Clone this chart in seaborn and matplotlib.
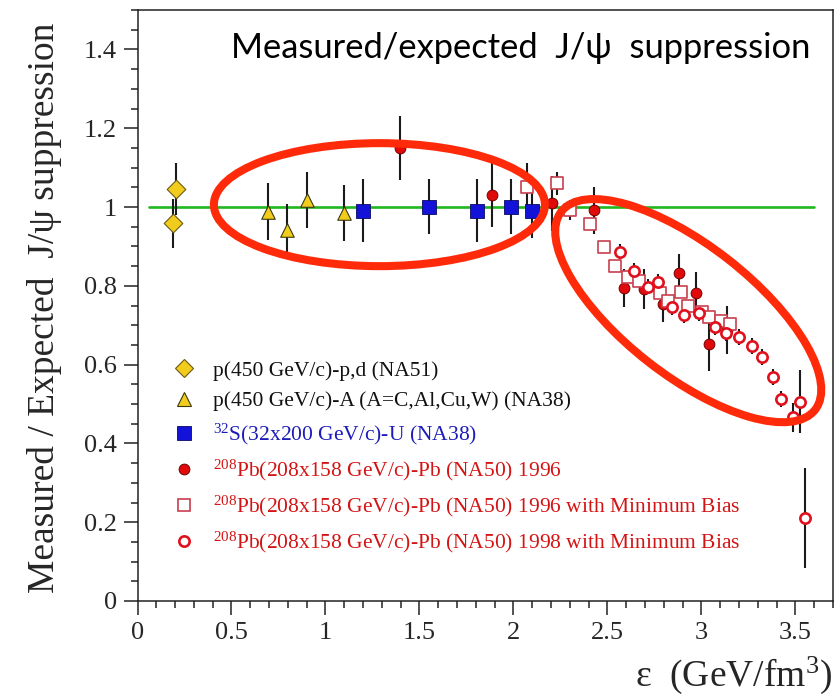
import numpy as np
import pandas as pd
import matplotlib
matplotlib.use("Agg")
import matplotlib.pyplot as plt
from matplotlib.lines import Line2D
from matplotlib.patches import Ellipse
from matplotlib.transforms import ScaledTranslation
from matplotlib.ticker import MultipleLocator
import seaborn as sns

# ---- data: energy density (GeV/fm^3), measured/expected ratio, error ----
na51_eps = [0.187, 0.205]
na51_val = [0.959, 1.046]
na51_err = [0.062, 0.066]

na38pA_eps = [0.696, 0.797, 0.900, 1.098]
na38pA_val = [0.988, 0.942, 1.018, 0.984]
na38pA_err = [0.072, 0.065, 0.072, 0.071]

su_eps = [1.198, 1.549, 1.807, 1.988, 2.097]
su_val = [0.991, 1.001, 0.991, 1.001, 0.991]
su_err = [0.080, 0.070, 0.080, 0.070, 0.070]

pb96_eps = [1.396, 1.887, 2.203, 2.428, 2.589, 2.696, 2.797, 2.880, 2.969, 3.040, 3.134]
pb96_val = [1.150, 1.031, 1.009, 0.992, 0.794, 0.792, 0.753, 0.832, 0.781, 0.652, 0.688]
pb96_err = [0.082, 0.082, 0.070, 0.060, 0.049, 0.050, 0.045, 0.050, 0.055, 0.068, 0.061]

pb96mb_eps = [2.073, 2.233, 2.301, 2.407, 2.481, 2.540, 2.611, 2.669, 2.779, 2.823,
              2.891, 2.930, 3.001, 3.041, 3.107, 3.152]
pb96mb_val = [1.052, 1.060, 0.992, 0.957, 0.899, 0.850, 0.822, 0.812, 0.781, 0.762,
              0.785, 0.749, 0.734, 0.722, 0.711, 0.702]
pb96mb_err = [0.060, 0.030, 0.025, 0.0, 0.0, 0.0, 0.0, 0.0, 0.0, 0.0,
              0.0, 0.0, 0.0, 0.0, 0.0, 0.0]

pb98mb_eps = [2.566, 2.641, 2.714, 2.770, 2.841, 2.909, 2.988, 3.072, 3.130, 3.199,
              3.270, 3.323, 3.382, 3.423, 3.485, 3.524, 3.551]
pb98mb_val = [0.887, 0.838, 0.798, 0.810, 0.747, 0.726, 0.730, 0.696, 0.681, 0.671,
              0.647, 0.619, 0.569, 0.512, 0.466, 0.506, 0.210]
pb98mb_err = [0.020, 0.020, 0.020, 0.020, 0.020, 0.020, 0.020, 0.020, 0.020, 0.020,
              0.020, 0.020, 0.020, 0.020, 0.037, 0.080, 0.127]

labels = [
    "p(450 GeV/c)-p,d (NA51)",
    "p(450 GeV/c)-A (A=C,Al,Cu,W) (NA38)",
    r"$^{32}$S(32x200 GeV/c)-U (NA38)",
    r"$^{208}$Pb(208x158 GeV/c)-Pb (NA50) 1996",
    r"$^{208}$Pb(208x158 GeV/c)-Pb (NA50) 1996 with Minimum Bias",
    r"$^{208}$Pb(208x158 GeV/c)-Pb (NA50) 1998 with Minimum Bias",
]

x_ticks = [0, 0.5, 1, 1.5, 2, 2.5, 3, 3.5]
x_ticklabels = ["0", "0.5", "1", "1.5", "2", "2.5", "3", "3.5"]
y_ticks = [0, 0.2, 0.4, 0.6, 0.8, 1.0, 1.2, 1.4]
y_ticklabels = ["0", "0.2", "0.4", "0.6", "0.8", "1", "1.2", "1.4"]

# ---- style ----
sns.set_style("ticks")
plt.rcParams["font.family"] = ["Liberation Serif", "DejaVu Serif"]
plt.rcParams["mathtext.fontset"] = "custom"
plt.rcParams["mathtext.rm"] = "Liberation Serif"
plt.rcParams["mathtext.it"] = "Liberation Serif:italic"

fig = plt.figure(figsize=(8.39, 6.96), dpi=100)
ax = fig.add_axes([0.1639, 0.1365, 0.8289, 0.8491])

series = [
    dict(eps=na51_eps, val=na51_val, err=na51_err, marker="D", face="#f2cc1c",
         edge="#6b5a10", size=90, ew=0.8),
    dict(eps=na38pA_eps, val=na38pA_val, err=na38pA_err, marker="^", face="#f2cc1c",
         edge="#3a3a10", size=95, ew=0.8),
    dict(eps=su_eps, val=su_val, err=su_err, marker="s", face="#1212d8",
         edge="#0a0a60", size=90, ew=0.6),
    dict(eps=pb96_eps, val=pb96_val, err=pb96_err, marker="o", face="#e00a0a",
         edge="#700000", size=60, ew=0.7),
    dict(eps=pb96mb_eps, val=pb96mb_val, err=pb96mb_err, marker="s", face="white",
         edge="#c8404e", size=75, ew=1.2),
    dict(eps=pb98mb_eps, val=pb98mb_val, err=pb98mb_err, marker="o", face="white",
         edge="#e0101c", size=55, ew=1.9),
]

# reference line at ratio = 1
ax.plot([0.06, 3.60], [1.0, 1.0], color="#1fb81f", lw=1.9, zorder=1)

for s in series:
    df = pd.DataFrame({"eps": s["eps"], "val": s["val"], "err": s["err"]})
    bars = df[df["err"] > 0]
    ax.errorbar(bars["eps"], bars["val"], yerr=bars["err"], fmt="none",
                ecolor="#1a1a1a", elinewidth=1.5, capsize=0, zorder=2)
    sns.scatterplot(data=df, x="eps", y="val", ax=ax, marker=s["marker"],
                    color=s["face"], edgecolor=s["edge"], linewidth=s["ew"],
                    s=s["size"], zorder=3, legend=False)

ax.set_xlim(0, 3.7)
ax.set_ylim(0, 1.5)
ax.set_xticks(x_ticks)
ax.set_xticklabels(x_ticklabels)
ax.set_yticks(y_ticks)
ax.set_yticklabels(y_ticklabels)
ax.xaxis.set_minor_locator(MultipleLocator(0.1))
ax.yaxis.set_minor_locator(MultipleLocator(0.05))
ax.tick_params(axis="both", which="major", direction="out", length=10, width=1.1,
               labelsize=19, pad=5, color="#222222")
ax.tick_params(axis="both", which="minor", direction="out", length=5, width=1.1,
               color="#222222")
ax.set_xlabel("")
ax.set_ylabel("")
for sp in ax.spines.values():
    sp.set_visible(True)
    sp.set_linewidth(1.1)
    sp.set_color("#222222")

# axis titles
fig.text(45 / 839, 1 - 308 / 696, "Measured / Expected  J/\u03c8 suppression",
         rotation=90, ha="center", va="center", fontsize=27)
fig.text(832 / 839, 1 - 675 / 696, "\u03b5  (GeV/fm$^{3}$)", ha="right",
         va="center", fontsize=27)

# headline inside the frame
ax.text(0.551, 0.936, "Measured/expected  J/\u03c8  suppression", transform=ax.transAxes,
        ha="center", va="center", fontsize=24.8, family=["Lato", "DejaVu Sans"],
        color="black")

# legend
handles = [
    Line2D([], [], ls="none", marker=s["marker"], markerfacecolor=s["face"],
           markeredgecolor=s["edge"], markeredgewidth=s["ew"],
           markersize=np.sqrt(s["size"]))
    for s in series
]
label_colors = ["#111111", "#111111", "#1c1cb8", "#d41414", "#d41414", "#d41414"]
ax.legend(handles, labels, loc="upper left", bbox_to_anchor=(0.0515, 0.407),
          frameon=False, fontsize=15.5, labelcolor=label_colors, handlelength=1.0,
          handletextpad=0.85, labelspacing=0.5, borderpad=0, borderaxespad=0)

# highlighted regions
flat = Ellipse((0, 0), 3.31, 1.23, angle=0, fill=False, edgecolor="#ff2a0a",
               lw=5.8, zorder=5,
               transform=fig.dpi_scale_trans + ScaledTranslation(1.287, 1.006, ax.transData))
drop = Ellipse((0, 0), 3.22, 1.30, angle=-38, fill=False, edgecolor="#ff2a0a",
               lw=5.8, zorder=5,
               transform=fig.dpi_scale_trans + ScaledTranslation(2.930, 0.737, ax.transData))
ax.add_patch(flat)
ax.add_patch(drop)

fig.savefig("out.png", dpi=100)
